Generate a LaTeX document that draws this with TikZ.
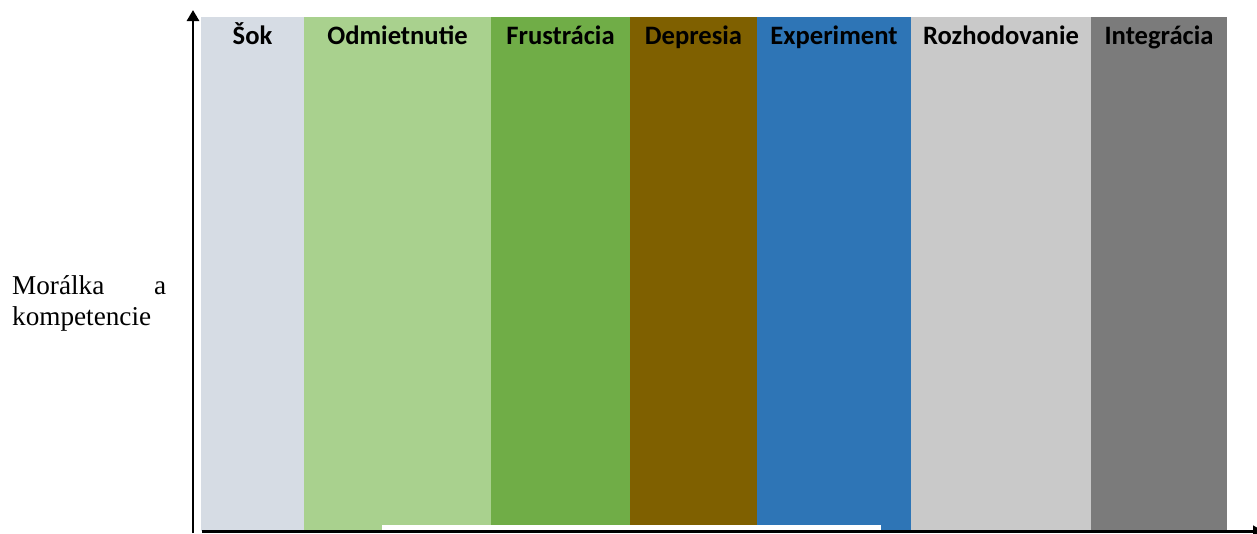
\documentclass[tikz,border=0pt]{standalone}
\usepackage{fontspec}
\setmainfont{Liberation Serif}
\newfontfamily\labelfont{Carlito}
\usepackage{tikz}
\usetikzlibrary{arrows.meta,calc}
\definecolor{sok}{HTML}{D6DCE4}
\definecolor{odm}{HTML}{A9D18E}
\definecolor{fru}{HTML}{70AD47}
\definecolor{dep}{HTML}{7F6000}
\definecolor{exp}{HTML}{2E75B6}
\definecolor{roz}{HTML}{C9C9C9}
\definecolor{integ}{HTML}{7B7B7B}
\tikzstyle{band}=[draw=none]
\tikzstyle{phase}=[font=\labelfont\bfseries\fontsize{26.6}{30}\selectfont,inner sep=0pt,anchor=base]
\tikzstyle{axis}=[draw,line width=2.8pt,-{Triangle[length=11pt,width=12pt]}]
\tikzstyle{ylabel}=[font=\fontsize{27.2}{30.5}\selectfont,text width=154pt,align=left,inner sep=0pt,anchor=north west]

\begin{document}
\begin{tikzpicture}[x=1pt,y=-1pt]
  \useasboundingbox (0,0) rectangle (1257,533);

    % phases as coloured bands
    \foreach \xa/\xb/\col/\name/\txt in {201/304/sok/s1/{Šok},304/491/odm/s2/{Odmietnutie},491/630/fru/s3/{Frustrácia},630/757/dep/s4/{Depresia},757/911/exp/s5/{Experiment},911/1091/roz/s6/{Rozhodovanie},1091/1227/integ/s7/{Integrácia}}
    {
        \fill[band,\col] (\xa,17) rectangle (\xb,531);
        \node[phase] (\name) at ({(\xa+\xb)/2},44.5) {\txt};
    }

    \fill[white] (382,525) rectangle (881,530);

    % axes
    \coordinate (origin) at (193,533);
    \coordinate (ytop) at (193,10);
    \coordinate (xstart) at (202,531.7);
    \coordinate (xend) at (1264,531.7);
    \path[axis] (origin) -- (ytop);
    \path[axis] (xstart) -- (xend);

 \node[ylabel] (moral) at (12,275.5) {Morálka\hfill a\\kompetencie};

      \end{tikzpicture}
\end{document}
